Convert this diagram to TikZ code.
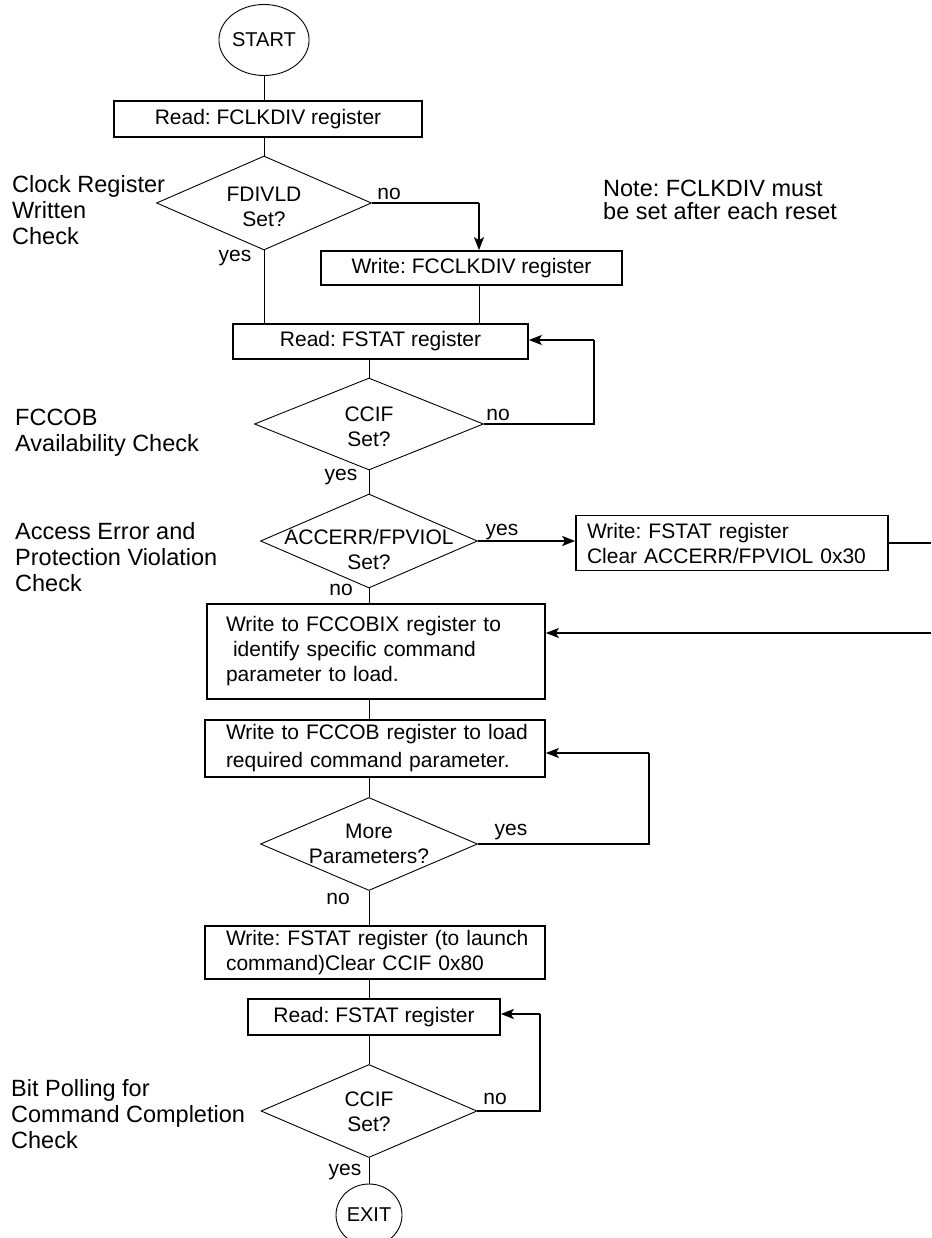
\documentclass[tikz,border=0pt]{standalone}
\usepackage{fontspec}
\setmainfont{Liberation Sans}
\usetikzlibrary{shapes.geometric,arrows.meta}
\begin{document}
\frenchspacing
\begin{tikzpicture}[x=1pt,y=-1pt,
  font=\fontsize{21}{25}\selectfont\frenchspacing,
  box/.style={draw,line width=1.7pt,inner sep=0pt},
  dia/.style={diamond,draw,line width=0.9pt,inner sep=0pt},
  dtext/.style={align=center,inner sep=0pt},
  side/.style={align=left,inner sep=0pt,anchor=west,font=\fontsize{23.5}{26}\selectfont\frenchspacing},
  lbl/.style={inner sep=0pt},
  spine/.style={line width=1pt},
  arr/.style={line width=1.7pt,-{Stealth[length=13pt,width=10pt,inset=3pt]}},
  heavy/.style={line width=1.7pt}
]
\useasboundingbox (0,0) rectangle (931,1238);

% terminals
\node[ellipse,draw,line width=0.9pt,minimum width=83pt,minimum height=71pt,inner sep=0pt,font=\fontsize{20}{24}\selectfont] (start) at (264,40) {START};
\node[ellipse,draw,line width=0.9pt,minimum width=66pt,minimum height=62pt,inner sep=0pt,font=\fontsize{20}{24}\selectfont] (exit) at (369,1215) {EXIT};

% boxes
\node[box,minimum width=308pt,minimum height=36pt] (b1) at (268,119) {Read: FCLKDIV register};
\node[box,minimum width=301pt,minimum height=34pt] (b2) at (471.5,268) {Write: FCCLKDIV register};
\node[box,minimum width=295pt,minimum height=35pt] (b3) at (380.5,341.5) {Read: FSTAT register};
\node[box,minimum width=312pt,minimum height=55pt,text width=290pt,align=left] (b4) at (732,543) {\mbox{Write: FSTAT register}\\\mbox{Clear ACCERR/FPVIOL 0x30}};
\node[box,minimum width=338pt,minimum height=95pt,text width=300pt,align=left] (b5) at (376,651.5) {\mbox{Write to FCCOBIX register to}\\\mbox{\ identify specific command}\\\mbox{parameter to load.}};
\node[box,minimum width=340pt,minimum height=57pt,text width=298pt,align=left,font=\fontsize{21}{28}\selectfont\frenchspacing] (b6) at (375,748.5) {\mbox{Write to FCCOB register to load}\\\mbox{required command parameter.}};
\node[box,minimum width=340pt,minimum height=53pt,text width=298pt,align=left] (b7) at (375,952.5) {\mbox{Write: FSTAT register (to launch}\\\mbox{command)Clear CCIF 0x80}};
\node[box,minimum width=252pt,minimum height=36pt] (b8) at (374,1017) {Read: FSTAT register};

% decisions
\node[dia,minimum width=215pt,minimum height=94pt] (d1) at (264,203) {};
\node[dtext] (d1t) at (264,207) {FDIVLD\\Set?};
\node[dia,minimum width=229pt,minimum height=92pt] (d2) at (369,424) {};
\node[dtext] (d2t) at (369,427) {CCIF\\Set?};
\node[dia,minimum width=217pt,minimum height=94pt] (d3) at (369,541) {};
\node[dtext] (d3t) at (369,549) {ACCERR/FPVIOL\\Set?};
\node[dia,minimum width=217pt,minimum height=93pt] (d4) at (369,844) {};
\node[dtext] (d4t) at (369,844) {More\\Parameters?};
\node[dia,minimum width=216pt,minimum height=93pt] (d5) at (369,1111) {};
\node[dtext] (d5t) at (369,1112) {CCIF\\Set?};

% side notes
\node[side] (s1) at (12,210) {Clock Register\\Written\\Check};
\node[side,font=\fontsize{23.5}{23}\selectfont\frenchspacing] (s2) at (603,200) {Note: FCLKDIV must\\be set after each reset};
\node[side] (s3) at (15,433) {FCCOB\\Availability Check};
\node[side] (s4) at (15,557) {Access Error and\\Protection Violation\\Check};
\node[side] (s5) at (11,1114) {Bit Polling for\\Command Completion\\Check};

% branch labels
\node[lbl] (n1) at (389,194) {no};
\node[lbl] (y1) at (235,258) {yes};
\node[lbl] (n2) at (498,415) {no};
\node[lbl] (y2) at (341,477) {yes};
\node[lbl] (y3) at (502,532) {yes};
\node[lbl] (n3) at (341,590) {no};
\node[lbl] (y4) at (511,832) {yes};
\node[lbl] (n4) at (338,899) {no};
\node[lbl] (n5) at (495,1099) {no};
\node[lbl] (y5) at (345,1172) {yes};

% junction coordinates
\coordinate (j1) at (479,203);
\coordinate (l1) at (594,340);
\coordinate (l2) at (649,753);
\coordinate (l3) at (540,1014);
\coordinate (r1) at (931,543);
\coordinate (r2) at (931,633);

% connectors
\draw[spine] (start.south) -- (start.south |- b1.north);
\draw[spine] (d1.north |- b1.south) -- (d1.north);
\draw[heavy] (d1.east) -- (j1);
\draw[arr] (j1) -- (j1 |- b2.north);
\draw[spine] (d1.south) -- (d1.south |- b3.north);
\draw[spine] (j1 |- b2.south) -- (j1 |- b3.north);
\draw[spine] (d2.north |- b3.south) -- (d2.north);
\draw[heavy] (d2.east) -| (l1);
\draw[arr] (l1) -- (l1 -| b3.east);
\draw[spine] (d2.south) -- (d3.north);
\draw[arr] (d3.east) -- (d3.east -| b4.west);
\draw[heavy] (b4.east) -- (r1);
\draw[arr] (r2) -- (r2 -| b5.east);
\draw[spine] (d3.south) -- (d3.south |- b5.north);
\draw[spine] (d4.north |- b5.south) -- (d4.north |- b6.north);
\draw[spine] (d4.north |- b6.south) -- (d4.north);
\draw[heavy] (d4.east) -| (l2);
\draw[arr] (l2) -- (l2 -| b6.east);
\draw[spine] (d4.south) -- (d4.south |- b7.north);
\draw[spine] (d4.south |- b7.south) -- (d4.south |- b8.north);
\draw[spine] (d5.north |- b8.south) -- (d5.north);
\draw[heavy] (d5.east) -| (l3);
\draw[arr] (l3) -- (l3 -| b8.east);
\draw[spine] (d5.south) -- (exit.north);
\end{tikzpicture}
\end{document}
